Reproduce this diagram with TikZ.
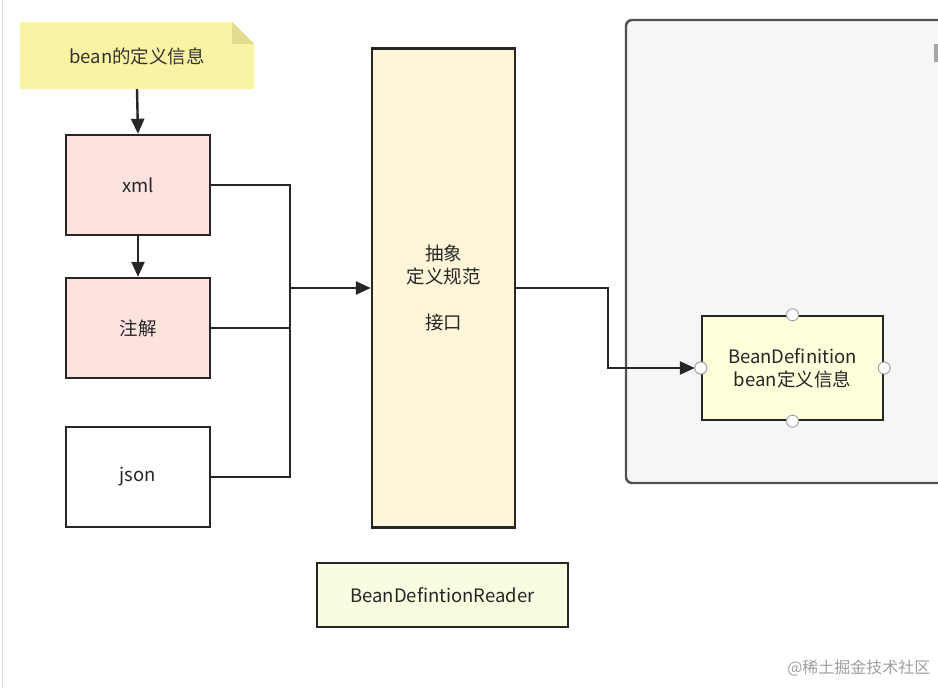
\documentclass[tikz,border=0pt]{standalone}
\usepackage{fontspec}
\setmainfont{Noto Sans CJK SC}
\usepackage{xcolor}
\usetikzlibrary{arrows.meta}
\definecolor{noteyellow}{HTML}{FAF3A4}
\definecolor{noteear}{HTML}{E2DA8E}
\definecolor{srcpink}{HTML}{FDE2DD}
\definecolor{readercream}{HTML}{FFF6D9}
\definecolor{boxgray}{HTML}{F5F6F6}
\definecolor{defyellow}{HTML}{FFFFDC}
\definecolor{namegreen}{HTML}{FAFCE0}
\definecolor{linedark}{HTML}{262626}

\begin{document}
\begin{tikzpicture}[x=1pt,y=-1pt,
    font=\fontsize{18.5}{23}\selectfont,
    box/.style={draw=linedark,line width=2.4pt,inner sep=0pt,align=center,text=black!85},
    conn/.style={draw=linedark,line width=2.4pt},
    arr/.style={conn,-{Triangle[length=15pt,width=13pt]}},
    handle/.style={circle,draw=gray!70,fill=white,line width=1pt,minimum size=12pt,inner sep=0pt}]
    \useasboundingbox (0,0) rectangle (938,688);
    \clip (0,0) rectangle (938,688);
    \fill[white] (0,0) rectangle (938,688);
    \draw[gray!25,line width=1pt] (2,0) -- (2,688);
    % note with folded corner
    \fill[noteyellow] (20,22) -- (232,22) -- (254,44) -- (254,89) -- (20,89) -- cycle;
    \fill[noteear] (232,22) -- (232,44) -- (254,44) -- cycle;
    \node[text=black!80] (note) at (137,56) {bean的定义信息};
    \coordinate (notebot) at (137,89);
    % sources
    \node[box,fill=srcpink,minimum width=144pt,minimum height=100pt] (xml) at (138,185) {xml};
    \node[box,fill=srcpink,minimum width=144pt,minimum height=100pt] (anno) at (138,328) {注解};
    \node[box,fill=white,minimum width=144pt,minimum height=100pt] (json) at (138,477) {json};
    % reader interface
    \node[box,fill=readercream,minimum width=143pt,minimum height=479pt] (reader) at (443.5,288) {抽象\\定义规范\\[23pt]接口};
    \node[box,fill=namegreen,minimum width=251pt,minimum height=64pt] (readername) at (442.5,595) {BeanDefintionReader};
    % container
    \draw[draw=linedark!80,fill=boxgray,line width=2.4pt,rounded corners=6pt] (626,20) rectangle (960,483);
    \fill[gray!70] (934,44) rectangle (938,62);
    \node[box,fill=defyellow,minimum width=181pt,minimum height=104pt] (bd) at (792.5,368) {BeanDefinition\\bean定义信息};
    \foreach \side in {north,east,south,west}
        \node[handle] (h\side) at (bd.\side) {};
    % connectors
    \draw[arr] (notebot) -- (xml.north);
    \draw[arr] (xml.south) -- (anno.north);
    \coordinate (bus) at (290,288);
    \draw[conn] (xml.east) -| (bus);
    \draw[conn] (json.east) -| (bus);
    \draw[conn] (anno.east) -- (anno.east -| bus);
    \draw[arr] (bus) -- (bus -| reader.west);
    \coordinate (turn) at (608,288);
    \draw[arr,shorten >=6pt] (reader.east) -- (turn) |- (bd.west);
    \node[handle] at (bd.west) {};
    % watermark
    \node[text=gray!75,font=\fontsize{16}{18}\selectfont,anchor=east] (mark) at (934,668) {@稀土掘金技术社区};
\end{tikzpicture}
\end{document}
